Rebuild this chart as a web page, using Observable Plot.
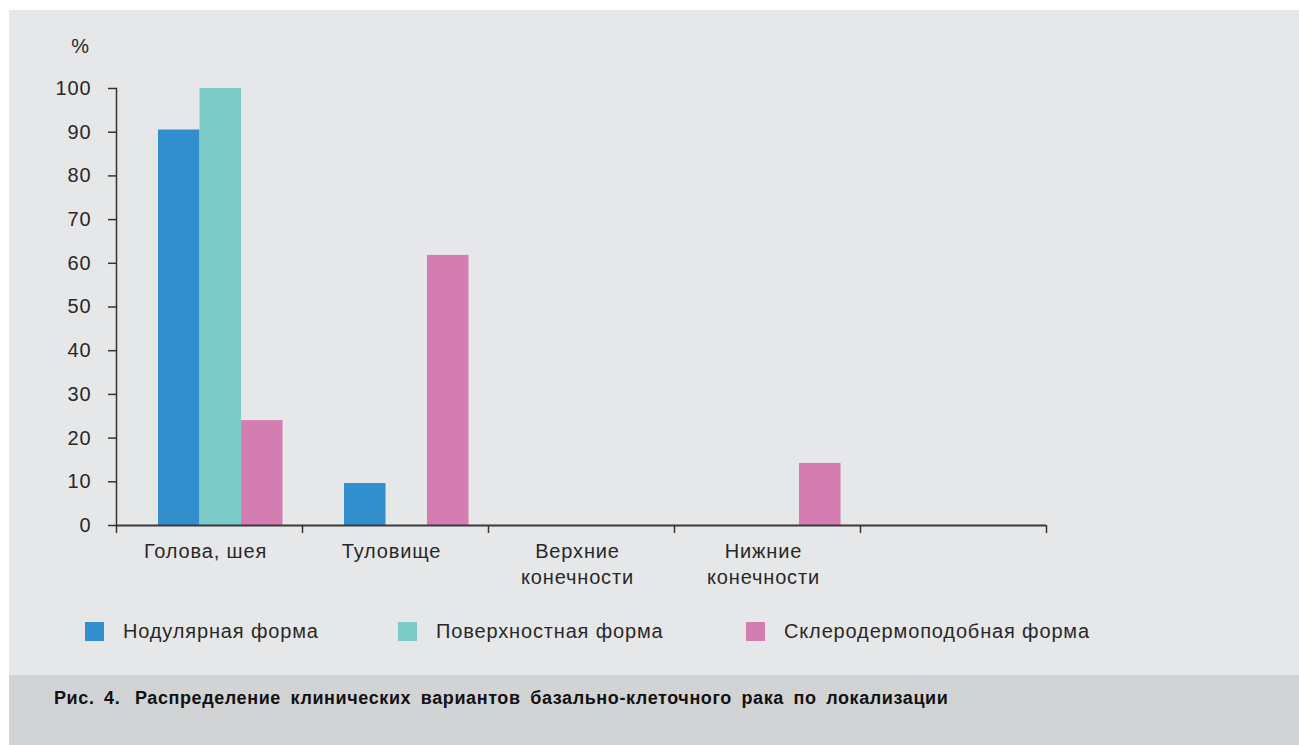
<!DOCTYPE html>
<html>
<head>
<meta charset="utf-8">
<script src="https://cdn.jsdelivr.net/npm/d3@7"></script>
<script src="https://cdn.jsdelivr.net/npm/@observablehq/plot@0.6"></script>
<style>
  html, body { margin: 0; padding: 0; background: #ffffff; width: 1299px; height: 745px; overflow: hidden; }
  #panel { position: absolute; left: 9px; top: 10px; width: 1290px; height: 665px; background: #e6e7e9; }
  #chart { position: absolute; left: 0; top: 0; }
  #legend { position: absolute; left: 0; top: 621px; width: 1299px; height: 24px; font-family: "Liberation Sans", Arial, sans-serif; font-size: 20px; color: #2a2728; letter-spacing: 0.85px; }
  .item { position: absolute; top: 0; display: flex; align-items: center; height: 20px; }
  .sw { width: 19px; height: 19px; margin-right: 19px; }
  #caption { position: absolute; left: 9px; top: 675px; width: 1290px; height: 70px; background: #d2d3d5; }
  #caption span { position: absolute; left: 45px; top: 13px; font-family: "Liberation Sans", Arial, sans-serif; font-weight: bold; font-size: 18px; color: #111; word-spacing: 4px; letter-spacing: 0.6px; white-space: pre; }
</style>
</head>
<body>
<div id="panel"></div>
<div id="chart"></div>
<div id="legend"></div>
<div id="caption"><span>Рис. 4.<span style="position:static;letter-spacing:0;word-spacing:0"> </span> Распределение клинических вариантов базально-клеточного рака по локализации</span></div>
<script>
const categories = ["Голова, шея", "Туловище", "Верхние\nконечности", "Нижние\nконечности", ""];
const seriesNames = ["Нодулярная форма", "Поверхностная форма", "Склеродермоподобная форма"];
const seriesColors = ["#318fce", "#7ccbc7", "#d47db0"];
const nodular = [90.5, 9.6, 0, 0];
const superficial = [100, 0, 0, 0];
const scleroderma = [24, 61.8, 0, 14.2];
const yTicks = [0, 10, 20, 30, 40, 50, 60, 70, 80, 90, 100];

const seriesValues = [nodular, superficial, scleroderma];
const rows = [];
seriesValues.forEach((vals, s) => vals.forEach((v, i) => rows.push({category: categories[i], series: seriesNames[s], value: v})));

const band = 186, barW = 41.5, groupStart = 42;
const font = "'Liberation Sans', Arial, sans-serif";
const textColor = "#2a2728";

const barMarks = seriesNames.map((name, s) =>
  Plot.barY(rows.filter(d => d.series === name && d.value > 0), {
    x: "category", y: "value", fill: seriesColors[s],
    insetLeft: groupStart + barW * s,
    insetRight: band - groupStart - barW * (s + 1)
  })
);

const plot = Plot.plot({
  width: 1100,
  height: 600,
  marginLeft: 116,
  marginRight: 54,
  marginTop: 88,
  marginBottom: 75,
  style: {background: "transparent", fontFamily: font, fontSize: "20px", color: textColor, letterSpacing: "0.85px"},
  x: {domain: categories, padding: 0, label: null},
  y: {domain: [0, 100], label: null},
  marks: [
    ...barMarks,
    Plot.axisY({ticks: yTicks, tickSize: 8, tickPadding: 17, stroke: "#333", strokeWidth: 1.5, fill: textColor}),
    Plot.frame({anchor: "left", stroke: "#333", strokeWidth: 1.5}),
    Plot.ruleY([0], {stroke: "#3a3a3a", strokeWidth: 2.2}),
    Plot.axisX({tickSize: 8, dx: -band / 2, text: null, stroke: "#333", strokeWidth: 1.5, tickPadding: 0}),
    Plot.axisX({ticks: [categories[categories.length - 1]], tickSize: 8, dx: band / 2, text: null, stroke: "#333", strokeWidth: 1.5}),
    Plot.axisX({tickSize: 0, tickPadding: 14, lineHeight: 1.3, fill: textColor, dx: -4}),
    Plot.text(["%"], {frameAnchor: "top-left", dx: -36, dy: -50, fontSize: 20, fill: textColor, textAnchor: "middle"})
  ]
});
document.getElementById("chart").appendChild(plot);

const legendX = [85, 398, 746];
const legend = document.getElementById("legend");
seriesNames.forEach((name, s) => {
  const item = document.createElement("div");
  item.className = "item";
  item.style.left = legendX[s] + "px";
  const sw = document.createElement("div");
  sw.className = "sw";
  sw.style.background = seriesColors[s];
  const t = document.createElement("span");
  t.textContent = name;
  item.appendChild(sw);
  item.appendChild(t);
  legend.appendChild(item);
});
</script>
</body>
</html>
